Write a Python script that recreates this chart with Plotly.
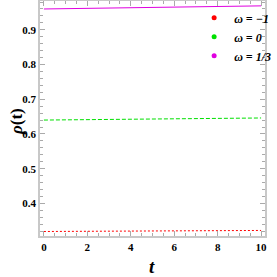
import plotly.graph_objects as go

t = [0, 2, 4, 6, 8, 10]
rho_m1 = [0.319, 0.320, 0.320, 0.321, 0.321, 0.322]
rho_0 = [0.640, 0.641, 0.642, 0.643, 0.645, 0.646]
rho_13 = [0.960, 0.962, 0.963, 0.965, 0.967, 0.969]
names = ["ω = −1", "ω = 0", "ω = 1/3"]
colors = ["#ff0000", "#00e000", "#e000e0"]
dashes = ["2px,2px", "4px,2px", "solid"]
series = [rho_m1, rho_0, rho_13]
xticks = [0, 2, 4, 6, 8, 10]
yticks = [0.4, 0.5, 0.6, 0.7, 0.8, 0.9]

fig = go.Figure()
for s, c, d in zip(series, colors, dashes):
    fig.add_trace(go.Scatter(x=t, y=s, mode="lines", line=dict(color=c, dash=d, width=1),
                             showlegend=False))
for n, c in zip(names, colors):
    fig.add_trace(go.Scatter(x=[None], y=[None], mode="markers",
                             marker=dict(color=c, size=5), name="<b><i>" + n + "</i></b>"))

axis_common = dict(showline=True, linecolor="#c8c8c8", linewidth=1.5, mirror="ticks",
                   ticks="inside", ticklen=5, tickcolor="#aaaaaa", showgrid=False, zeroline=False,
                   automargin=False,
                   tickfont=dict(family="Liberation Serif", size=11, color="black"))
fig.update_layout(
    width=277, height=277, margin=dict(l=40, r=2, t=1, b=41),
    plot_bgcolor="white", paper_bgcolor="white",
    font=dict(family="Liberation Serif", color="black"),
    xaxis=dict(range=[-0.18, 10.18], tickvals=xticks, ticktext=["<b>%d</b>" % v for v in xticks],
               minor=dict(ticks="inside", ticklen=3, tickcolor="#aaaaaa", dtick=0.5),
               **axis_common),
    yaxis=dict(range=[0.306, 0.983], tickvals=yticks, ticktext=["<b>%.1f</b>" % v for v in yticks],
               minor=dict(ticks="inside", ticklen=3, tickcolor="#aaaaaa", dtick=0.02),
               **axis_common),
    legend=dict(x=0.685, y=0.99, xanchor="left", yanchor="top", bgcolor="rgba(0,0,0,0)",
                font=dict(family="Liberation Serif", size=12), itemsizing="trace",
                tracegroupgap=0),
    annotations=[
        dict(text="<b><i>t</i></b>", x=157, y=266, xref="paper", yref="paper", showarrow=False,
             font=dict(size=19)),
        dict(text="<b><i>ρ</i>(t)</b>", x=16, y=122, xref="paper", yref="paper", showarrow=False,
             textangle=-90, font=dict(size=17)),
    ],
)
# convert pixel positions of the axis titles to paper coordinates
W, H, L, R, T, B = 277, 277, 40, 2, 1, 41
for a in fig.layout.annotations:
    a.x = (a.x - L) / (W - L - R)
    a.y = 1 - (a.y - T) / (H - T - B)
    a.xanchor = "center"
    a.yanchor = "middle"
fig.write_html("out.html", config={"displayModeBar": False},
               post_script="document.body.style.margin='0';document.body.style.overflow='hidden';")
